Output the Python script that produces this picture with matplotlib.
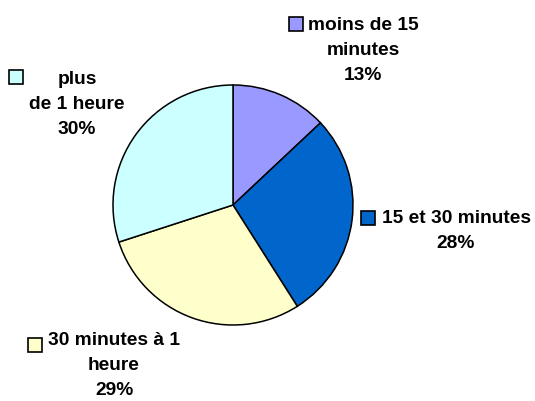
import matplotlib.pyplot as plt
from matplotlib.patches import Rectangle

plt.rcParams['font.family'] = ['Liberation Sans', 'DejaVu Sans']

# données
categories = ['moins de 15\nminutes', '15 et 30 minutes', '30 minutes à 1\nheure', 'plus\nde 1 heure']
valeurs = [13, 28, 29, 30]
couleurs = ['#9999FF', '#0066CC', '#FFFFCC', '#CCFFFF']

W, H = 535, 401
fig = plt.figure(figsize=(W / 100, H / 100), dpi=100)

# centre du camembert (233, 205), rayon 120 px
cx, cy, r = 233, 205, 120
ax = fig.add_axes([(cx - r) / W, 1 - (cy + r) / H, 2 * r / W, 2 * r / H])
ax.pie(valeurs, colors=couleurs, startangle=90, counterclock=False,
       wedgeprops=dict(edgecolor='black', linewidth=1.1))
ax.set_xlim(-1, 1)
ax.set_ylim(-1, 1)
ax.axis('off')

# position des étiquettes (centre x, ligne de base de la dernière ligne), carré de légende (gauche, haut)
pos_texte = [(363, 80), (456, 248), (114, 395), (77, 134)]
pos_carre = [(289, 17), (361, 211), (28, 338), (9, 70)]
cote = 14

for cat, val, col, (tx, ty), (sx, sy) in zip(categories, valeurs, couleurs, pos_texte, pos_carre):
    fig.text(tx / W, 1 - ty / H, '%s\n%d%%' % (cat, val), ha='center', va='baseline',
             fontsize=13.8, fontweight='bold', linespacing=1.6)
    fig.patches.append(Rectangle((sx / W, 1 - (sy + cote) / H), cote / W, cote / H,
                                 facecolor=col, edgecolor='black', linewidth=1.2,
                                 transform=fig.transFigure, figure=fig))

fig.savefig('out.png', dpi=100)
